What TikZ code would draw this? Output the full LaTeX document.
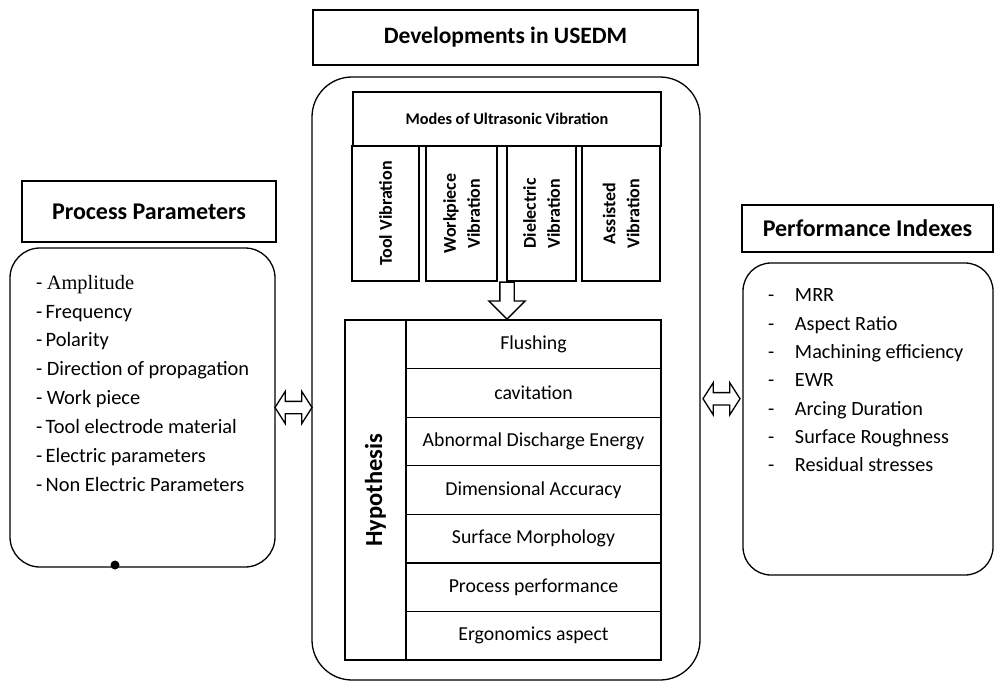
\documentclass[tikz,border=0pt]{standalone}
\usepackage{fontspec}
\setmainfont{Carlito}
\newfontfamily\amplfont{Liberation Serif}
\usetikzlibrary{positioning, shapes.arrows, calc}

\begin{document}
\begin{tikzpicture}[x=1pt, y=-1pt,
  every node/.style={line width=1.3pt},
  titlehdr/.style={rectangle, draw, minimum width=385pt, minimum height=55pt,
                   font=\fontsize{23.5}{27}\selectfont\bfseries},
  grouphdr/.style={rectangle, draw, font=\fontsize{24}{28}\selectfont\bfseries},
  listbody/.style={rectangle, draw, rounded corners=30pt},
  listtext/.style={align=left, inner sep=0pt},
  modehdr/.style={rectangle, draw, minimum width=308pt, minimum height=54pt,
                  font=\fontsize{16.3}{19}\selectfont\bfseries},
  modebox/.style={rectangle, draw, rotate=90, minimum width=135pt,
                  align=center, font=\fontsize{18}{24}\selectfont\bfseries},
  hypcol/.style={rectangle, draw, rotate=90, minimum width=340pt, minimum height=61pt,
                 outer sep=0pt, font=\fontsize{24.5}{28}\selectfont\bfseries},
  hyprow/.style={rectangle, draw, minimum width=255pt, minimum height=48.57pt,
                 outer sep=0pt, font=\fontsize{19.8}{23}\selectfont},
  blockarr/.style={single arrow, draw, fill=white, shape border rotate=270,
                   minimum height=37pt, inner sep=6.5pt,
                   single arrow head extend=11pt},
  dblarr/.style={double arrow, draw, fill=white, minimum height=37pt,
                 inner sep=5.5pt, double arrow head extend=10pt,
                 double arrow tip angle=115}
]
\useasboundingbox (0,0) rectangle (995,683);

% === Developments in USEDM (centre) ==========================================
\node[listbody, rounded corners=40pt, minimum width=388pt, minimum height=603pt]
      (main) at (506,378.5) {};
\node[titlehdr] (title) at (505.5,37.5) {Developments in USEDM};

% === Modes of ultrasonic vibration ===========================================
\node[modehdr]                      (modes) at (507,119)    {Modes of Ultrasonic Vibration};
\node[modebox, minimum height=67pt] (tv)    at (385.5,213.5) {Tool Vibration};
\node[modebox, minimum height=71pt] (wv)    at (461.5,213.5) {Workpiece\\Vibration};
\node[modebox, minimum height=69pt] (dv)    at (541.5,213.5) {Dielectric\\Vibration};
\node[modebox, minimum height=78pt] (av)    at (621,213.5)   {Assisted\\Vibration};

% === Hypothesis table =========================================================
\node[hypcol]                  (hyp) at (375.5,490) {Hypothesis};
\node[hyprow]                  (h1)  at (533.5,344.3) {Flushing};
\node[hyprow, below=0pt of h1] (h2)  {cavitation};
\node[hyprow, below=0pt of h2] (h3)  {Abnormal Discharge Energy};
\node[hyprow, below=0pt of h3] (h4)  {Dimensional Accuracy};
\node[hyprow, below=0pt of h4] (h5)  {Surface Morphology};
\node[hyprow, below=0pt of h5] (h6)  {Process performance};
\node[hyprow, below=0pt of h6] (h7)  {Ergonomics aspect};

\node[blockarr, anchor=tip] (down) at (h1.north -| modes.south) {};

% === Process Parameters (left) ===============================================
\node[grouphdr, minimum width=254pt, minimum height=61pt] (pphdr) at (149,211.5)
      {Process Parameters};
\node[listbody, minimum width=265pt, minimum height=319pt] (ppbody) at (142.5,407.5) {};
\node[listtext, font=\fontsize{20.4}{28.9}\selectfont,
      below right=27pt and 26pt of ppbody.north west] (pplist)
      {- {\amplfont Amplitude}\\
       -\,Frequency\\
       -\,Polarity\\
       - Direction of propagation\\
       - Work piece\\
       -\,Tool electrode material\\
       -\,Electric parameters\\
       -\,Non Electric Parameters};
\node[circle, fill, inner sep=0pt, minimum size=9pt] (blot) at (115,565) {};

% === Performance Indexes (right) =============================================
\node[grouphdr, minimum width=251pt, minimum height=47pt] (pihdr) at (867.5,228.5)
      {Performance Indexes};
\node[listbody, rounded corners=28pt, minimum width=250pt, minimum height=312pt]
      (pibody) at (868,419) {};
\node[listtext, font=\fontsize{20.2}{28.3}\selectfont,
      below right=26pt and 25pt of pibody.north west] (pilist)
      {\makebox[27pt][l]{-}MRR\\
       \makebox[27pt][l]{-}Aspect Ratio\\
       \makebox[27pt][l]{-}Machining efficiency\\
       \makebox[27pt][l]{-}EWR\\
       \makebox[27pt][l]{-}Arcing Duration\\
       \makebox[27pt][l]{-}Surface Roughness\\
       \makebox[27pt][l]{-}Residual stresses};

% === Links between the groups ================================================
\node[dblarr] (linkL) at ($(ppbody.east)!0.5!(main.west |- ppbody.east)$) {};
\node[dblarr] (linkR) at ($(main.east)!0.5!(pibody.west)$) {};

\end{tikzpicture}
\end{document}
